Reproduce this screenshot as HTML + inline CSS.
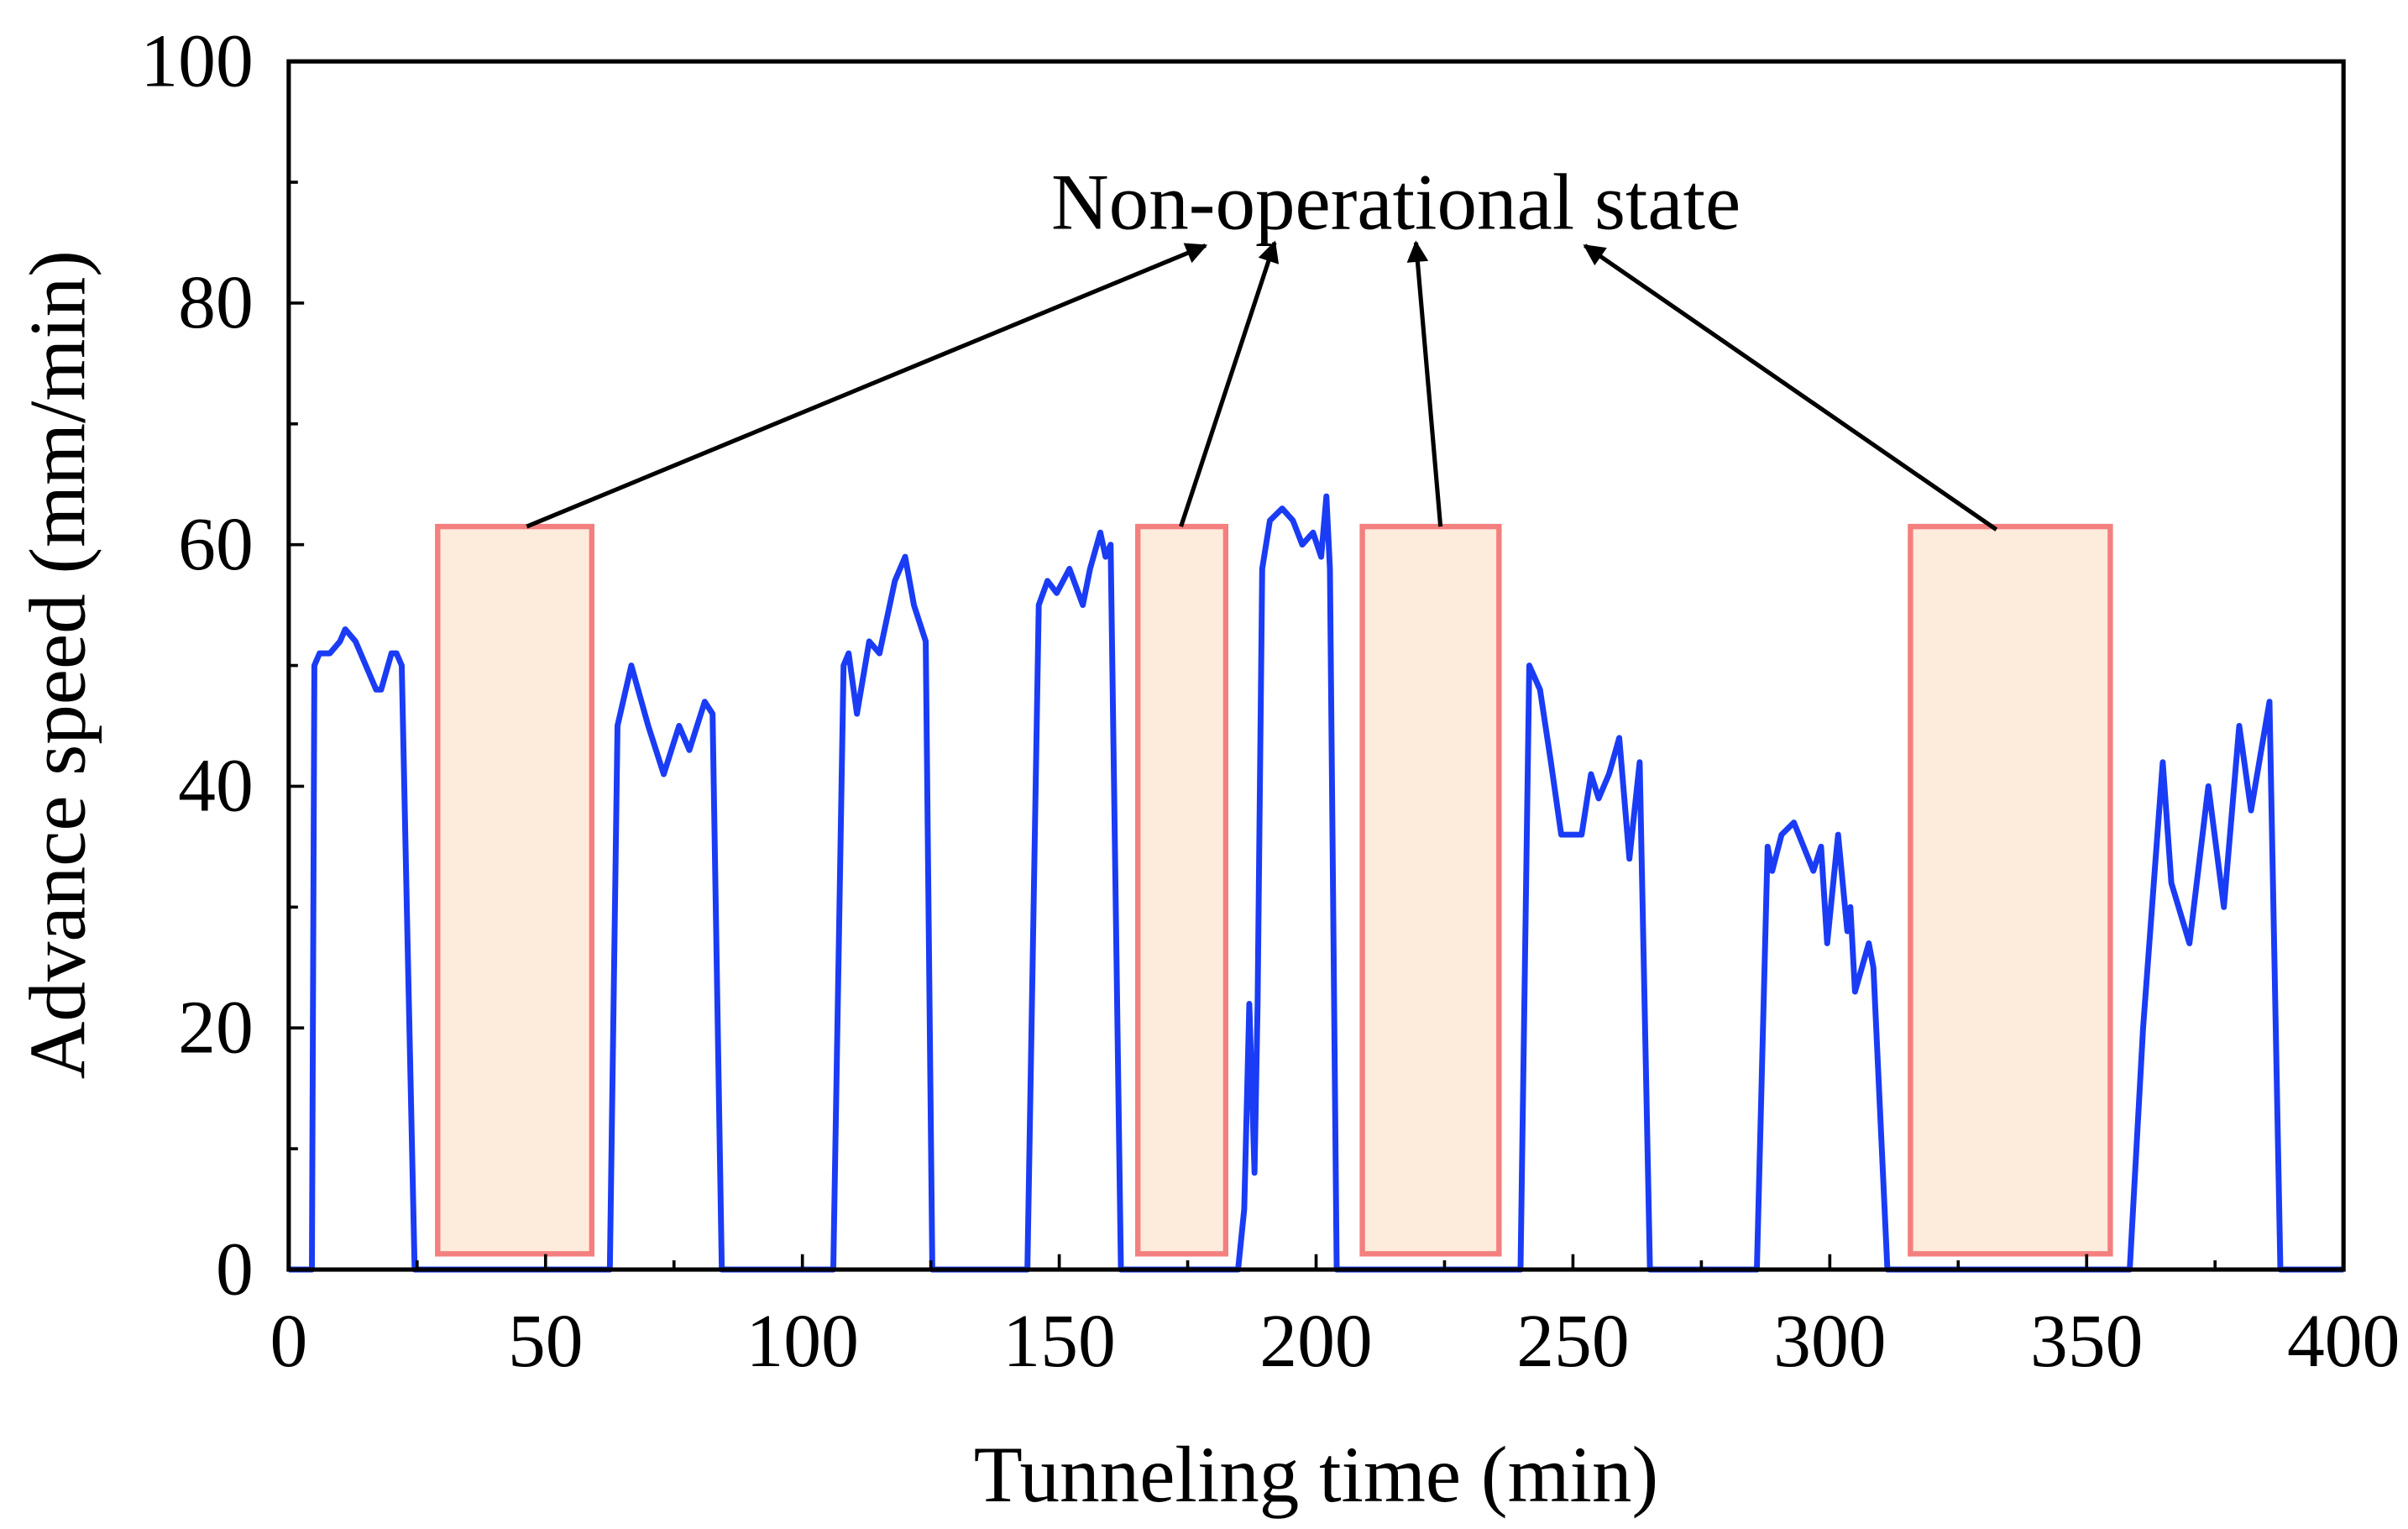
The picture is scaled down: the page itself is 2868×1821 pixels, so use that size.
<!DOCTYPE html>
<html><head><meta charset="utf-8"><style>
html,body{margin:0;padding:0;background:#fff;}
svg{display:block;}
text{font-family:"Liberation Serif",serif;fill:#000;}
</style></head><body>
<svg id="chart" width="2868" height="1821" viewBox="0 0 1568 996" preserveAspectRatio="none">
<defs><marker id="ah" viewBox="0 0 10 10" refX="9" refY="5" markerWidth="22" markerHeight="14" markerUnits="userSpaceOnUse" orient="auto"><path d="M0,0 L10,5 L0,10 z" fill="#000"/></marker></defs>
<g id="boxes"></g>
<g id="series"></g>
<g id="axes"></g>
<g id="ann"></g>
</svg>
<script>
const times=[4.5,5,6,8,10,11,13,15,17,18,20,21,22,23,24.5,62.5,64,66.7,70,73,76,78,81,82.5,84.3,106,108,109,110.6,113,115,118,120,121.7,124,125.3,143.8,146,147.7,149.5,152,154.6,156,158,159,160,162,184.8,186,187,188,188.6,189.5,191,193.4,195.5,197.3,199.4,201,202,202.7,204,239.8,241.5,243.6,245.7,247.7,251.7,253.5,255,257,259,261,263,265,285.8,287.9,288.8,290.6,293,296.8,298.3,299.5,301.6,303.4,304,304.9,307.6,308.5,311.2,358.4,361,364.8,366.5,370,373.7,376.7,379.7,382,385.6,387.7];
const speeds=[0,50,51,51,52,53,52,50,48,48,51,51,50,30,0,0,45,50,45,41,45,43,47,46,0,0,50,51,46,52,51,57,59,55,52,0,0,55,57,56,58,55,58,61,59,60,0,0,5,22,8,22,58,62,63,62,60,61,59,64,58,0,0,50,48,42,36,36,41,39,41,44,34,42,0,0,35,33,36,37,33,35,27,36,28,30,23,27,25,0,0,20,42,32,27,40,30,45,38,47,0];
const boxStart=[29,165.3,209,315.7];
const boxEnd=[59,182.4,235.6,354.6];
const boxTop=61.5, boxBottom=1.3;
const xTicks=[0,50,100,150,200,250,300,350,400];
const yTicks=[0,20,40,60,80,100];
const X0=188,X1=1526,Y0=827,Y1=40;
const sx=t=>X0+(t-0)/400*(X1-X0);
const sy=v=>Y0-(v/100)*(Y0-Y1);
const NS="http://www.w3.org/2000/svg";
function mk(tag,attrs,parent){const e=document.createElementNS(NS,tag);for(const k in attrs)e.setAttribute(k,attrs[k]);parent.appendChild(e);return e;}
const boxes=document.getElementById('boxes');
boxStart.forEach((s,i)=>{
 const r=mk('rect',{x:sx(s),y:sy(boxTop),width:sx(boxEnd[i])-sx(s),height:sy(boxBottom)-sy(boxTop),fill:'#fdebdc',stroke:'#f47f7f','stroke-width':3.5},boxes);
 
 
});
const series=document.getElementById('series');
let d='';times.forEach((t,i)=>{d+=(i?'L':'M')+sx(t).toFixed(1)+','+sy(speeds[i]).toFixed(1);});
d='M'+sx(0)+','+sy(0)+'L'+sx(times[0])+','+sy(0)+d.replace(/^M/,'L')+'L'+sx(400)+','+sy(0);
const ln=mk('path',{d:d,fill:'none',stroke:'#1a3cf5','stroke-width':3.8,'stroke-linejoin':'round'},series);


const axes=document.getElementById('axes');
const fr=mk('rect',{x:X0,y:Y1,width:X1-X0,height:Y0-Y1,fill:'none',stroke:'#000','stroke-width':2.8},axes);


for(let v=0;v<=400;v+=25){const L=v%50===0?10:6;mk('line',{x1:sx(v),x2:sx(v),y1:Y0,y2:Y0-L,stroke:'#000','stroke-width':2},axes);}
for(let v=0;v<=100;v+=10){const L=v%20===0?10:6;mk('line',{x1:X0,x2:X0+L,y1:sy(v),y2:sy(v),stroke:'#000','stroke-width':2},axes);}
xTicks.forEach(v=>{const t=mk('text',{x:sx(v),y:890,'text-anchor':'middle','font-size':49},axes);t.textContent=v;
 
 });
yTicks.forEach(v=>{const t=mk('text',{x:165,y:sy(v)+16,'text-anchor':'end','font-size':49},axes);t.textContent=v;
 
 });
const xt=mk('text',{x:857,y:978,'text-anchor':'middle','font-size':52},axes);xt.textContent='Tunneling time (min)';


const yt=mk('text',{x:0,y:0,'text-anchor':'middle','font-size':52,transform:'translate(55,433) rotate(-90)'},axes);yt.textContent='Advance speed (mm/min)';


const ann=document.getElementById('ann');
const at=mk('text',{x:909,y:149,'text-anchor':'middle','font-size':52},ann);at.textContent='Non-operational state';


[[343,343,785,160],[769,343,830,158],[938,343,922,158],[1300,345,1032,160]].forEach(a=>{
 const l=mk('line',{x1:a[0],y1:a[1],x2:a[2],y2:a[3],stroke:'#000','stroke-width':2.8,'marker-end':'url(#ah)'},ann);
 
 
});
</script>
</body></html>
